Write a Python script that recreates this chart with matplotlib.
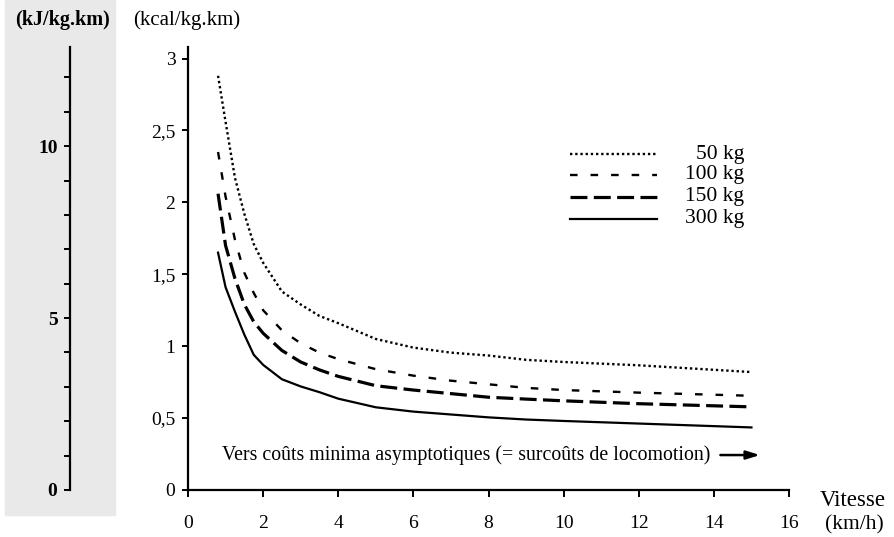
import numpy as np
import matplotlib
matplotlib.use('Agg')
import matplotlib.pyplot as plt
from matplotlib.patches import Rectangle
from matplotlib.lines import Line2D
from matplotlib.ticker import MultipleLocator, FixedLocator

plt.rcParams['font.family'] = ['Liberation Serif', 'DejaVu Serif']

# vitesse (km/h) and energy cost (kcal/kg.km)
vitesse = [0.8, 1.0, 1.25, 1.5, 1.75, 2.0, 2.5, 3.0, 3.5, 4.0, 5.0, 6.0, 7.0, 8.0, 9.0, 10.0, 12.0, 15.0]
cout_50 = [2.88, 2.56, 2.17, 1.92, 1.71, 1.58, 1.38, 1.29, 1.21, 1.16, 1.05, 0.99, 0.955, 0.935, 0.905, 0.89, 0.867, 0.82]
cout_100 = [2.35, 2.04, 1.74, 1.51, 1.37, 1.25, 1.11, 1.02, 0.955, 0.91, 0.84, 0.795, 0.76, 0.735, 0.71, 0.695, 0.677, 0.655]
cout_150 = [2.06, 1.70, 1.47, 1.29, 1.17, 1.09, 0.97, 0.89, 0.835, 0.79, 0.725, 0.695, 0.67, 0.645, 0.632, 0.62, 0.60, 0.578]
cout_300 = [1.65, 1.41, 1.24, 1.08, 0.94, 0.87, 0.77, 0.72, 0.68, 0.635, 0.575, 0.545, 0.525, 0.505, 0.49, 0.48, 0.462, 0.435]

labels = ['50 kg', '100 kg', '150 kg', '300 kg']
styles = [dict(ls=(0, (1, 1.2)), lw=1.7),
          dict(ls=(0, (3.2, 5.5)), lw=1.7),
          dict(ls=(0, (5.3, 2.0)), lw=2.3),
          dict(ls='-', lw=1.6)]

kcal_to_kJ = 4.184
ymax = 3.08

fig = plt.figure(figsize=(8.94, 5.37), dpi=100)
W, H = 894, 537

# grey band behind kJ scale
fig.patches.append(Rectangle((5 / W, 22 / H), 110 / W, 1 - 22 / H,
                             transform=fig.transFigure, color='#e9e9e9', zorder=-5))

bot = (H - 490) / H
hgt = (490 - 47) / H
ax = fig.add_axes([188 / W, bot, (789 - 188) / W, hgt])
ax.patch.set_alpha(0)

for y, lab, st in zip([cout_50, cout_100, cout_150, cout_300], labels, styles):
    ax.plot(vitesse, y, color='black', label=lab, **st)

ax.set_xlim(0, 16)
ax.set_ylim(0, ymax)
ax.spines['top'].set_visible(False)
ax.spines['right'].set_visible(False)
for s in ['left', 'bottom']:
    ax.spines[s].set_linewidth(1.6)
ax.set_xticks(range(0, 17, 2))
ax.set_yticks([0, 0.5, 1, 1.5, 2, 2.5, 3])
ax.set_yticklabels(['0', '0,5', '1', '1,5', '2', '2,5', '3'])
ax.tick_params(axis='y', direction='out', length=4, width=1.4, labelsize=14, pad=5)
ax.tick_params(axis='x', direction='out', length=5, width=1.4, labelsize=14, pad=13)

# legend drawn by hand (labels right aligned)
leg_y = [154, 175, 197, 219]
for yy, lab, st in zip(leg_y, labels, styles):
    fy = (H - yy) / H
    fig.add_artist(Line2D([570 / W, 657 / W], [fy, fy], color='black', **st))
    fig.text(744 / W, fy, lab, ha='right', va='center', fontsize=15.5)

ax.text(0.9, 0.243, 'Vers coûts minima asymptotiques (= surcoûts de locomotion)',
        fontsize=14.3, va='center', ha='left')
ax.annotate('', xy=(15.3, 0.243), xytext=(14.1, 0.243),
            arrowprops=dict(arrowstyle='-|>,head_length=0.8,head_width=0.25', color='black', lw=1.8))

fig.text(853 / W, (H - 500) / H, 'Vitesse', ha='center', va='center', fontsize=16.5)
fig.text(854 / W, (H - 525) / H, '(km/h)', ha='center', va='center', fontsize=15.5)
fig.text(187 / W, (H - 20) / H, '(kcal/kg.km)', ha='center', va='center', fontsize=15)
fig.text(62 / W, (H - 20) / H, '(kJ/kg.km)', ha='center', va='center', fontsize=14.5, fontweight='bold')

# kJ scale
ax2 = fig.add_axes([70 / W, bot, 0.001, hgt])
ax2.set_ylim(0, ymax * kcal_to_kJ)
ax2.set_xticks([])
for s in ['top', 'right', 'bottom']:
    ax2.spines[s].set_visible(False)
ax2.spines['left'].set_linewidth(1.6)
ax2.patch.set_alpha(0)
ax2.yaxis.set_major_locator(FixedLocator([0, 5, 10]))
ax2.yaxis.set_minor_locator(MultipleLocator(1))
ax2.tick_params(axis='y', which='both', direction='out', length=4, width=1.4)
ax2.tick_params(axis='y', labelsize=14, pad=5)
for t in ax2.get_yticklabels():
    t.set_fontweight('bold')

fig.savefig('out.png', dpi=100)
